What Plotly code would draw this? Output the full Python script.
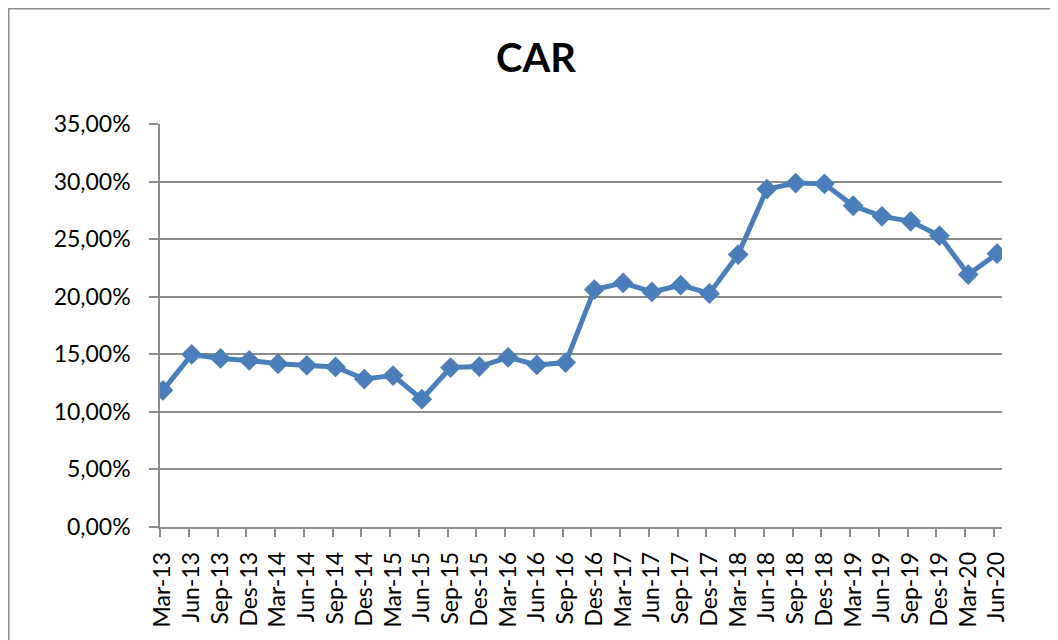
import plotly.graph_objects as go

categories = ["Mar-13", "Jun-13", "Sep-13", "Des-13", "Mar-14", "Jun-14", "Sep-14", "Des-14",
              "Mar-15", "Jun-15", "Sep-15", "Des-15", "Mar-16", "Jun-16", "Sep-16", "Des-16",
              "Mar-17", "Jun-17", "Sep-17", "Des-17", "Mar-18", "Jun-18", "Sep-18", "Des-18",
              "Mar-19", "Jun-19", "Sep-19", "Des-19", "Mar-20", "Jun-20"]
car_pct = [11.87, 14.99, 14.64, 14.47, 14.18, 14.04, 13.90, 12.85,
           13.15, 11.10, 13.85, 13.93, 14.74, 14.08, 14.28, 20.62,
           21.20, 20.42, 21.00, 20.28, 23.66, 29.35, 29.87, 29.80,
           27.90, 26.98, 26.55, 25.30, 21.92, 23.74]
y_ticks_pct = [0, 5, 10, 15, 20, 25, 30, 35]

idx = list(range(len(categories)))
car = [v / 100 for v in car_pct]

BLUE = "#4A7EBB"
GRID = "#8C8C8C"
FONT = "Lato"

W, H = 1050, 632
L, R, T, B = 152, 56, 116, 113
PW, PH = W - L - R, H - T - B

fig = go.Figure()
fig.add_trace(go.Scatter(
    x=idx, y=car, mode="lines+markers",
    line=dict(color=BLUE, width=5),
    marker=dict(symbol="diamond", size=16, color=BLUE),
    showlegend=False,
))

fig.update_layout(
    width=W, height=H,
    margin=dict(l=L, r=R, t=T, b=B, autoexpand=False),
    paper_bgcolor="white", plot_bgcolor="white",
    separators=",.",
    font=dict(family=FONT, size=23, color="#000000"),
    title=dict(text="<b>CAR</b>", x=528 / W, xref="container", xanchor="center",
               y=1 - 50 / H, yref="container", yanchor="middle",
               font=dict(family=FONT, size=40, color="#000000")),
    xaxis=dict(
        range=[-0.104, 29.174],
        tickmode="array", tickvals=idx, ticktext=categories,
        tickangle=-90,
        ticks="outside", ticklen=8, tickcolor="rgba(0,0,0,0)",
        ticklabelstandoff=6,
        showgrid=False, zeroline=False,
        showline=True, linecolor=GRID, linewidth=1.5,
        minor=dict(tickmode="linear", tick0=-0.104, dtick=1, ticks="outside",
                   ticklen=8, tickcolor=GRID, tickwidth=1.5, showgrid=False),
        tickfont=dict(family=FONT, size=23, color="#000000"),
    ),
    yaxis=dict(
        range=[0, 0.35],
        tickmode="array", tickvals=[t / 100 for t in y_ticks_pct],
        tickformat=".2%",
        ticks="outside", ticklen=9, tickcolor=GRID, tickwidth=1.5,
        ticklabelstandoff=14,
        showgrid=True, gridcolor=GRID, gridwidth=1.5,
        zeroline=False,
        showline=True, linecolor=GRID, linewidth=1.5,
        tickfont=dict(family=FONT, size=23, color="#000000"),
    ),
    shapes=[dict(type="rect", xref="paper", yref="paper",
                 x0=(0.75 - L) / PW, x1=(W + 20 - L) / PW,
                 y0=-(B + 20) / PH, y1=(PH + T - 0.75) / PH,
                 line=dict(color=GRID, width=1.5), fillcolor="rgba(0,0,0,0)",
                 layer="below")],
)

fig.write_html("out.html")
